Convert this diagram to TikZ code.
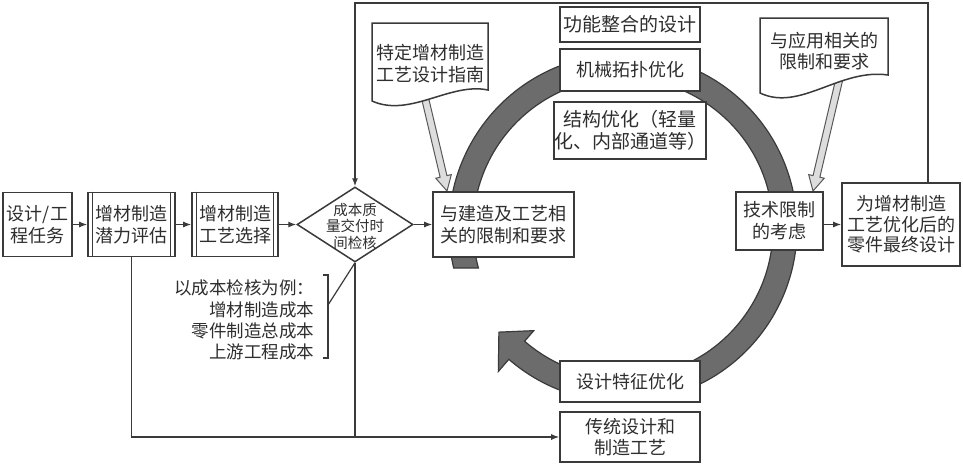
\documentclass[tikz,border=0pt]{standalone}
\usepackage{fontspec}
\setmainfont{Noto Sans CJK SC}
\usetikzlibrary{shapes.geometric,arrows.meta,calc}
\definecolor{ink}{HTML}{3A3A3A}
\definecolor{txt}{HTML}{2E2E2E}
\definecolor{bandc}{HTML}{6C6C6C}
\definecolor{hollowc}{HTML}{DDDDDD}
\newcommand\hollowarr[2]{%
  \filldraw[fill=hollowc,draw=ink!85,line width=1pt,line join=miter]
    ($(#1)!3.5pt!90:(#2)$) -- ($($(#2)!15pt!(#1)$)!3.5pt!-90:(#1)$)
    -- ($($(#2)!15pt!(#1)$)!8pt!-90:(#1)$) -- (#2)
    -- ($($(#2)!15pt!(#1)$)!8pt!90:(#1)$) -- ($($(#2)!15pt!(#1)$)!3.5pt!90:(#1)$)
    -- ($(#1)!3.5pt!-90:(#2)$) -- cycle;}
\begin{document}
\begin{tikzpicture}[x=1pt,y=-1pt,
  box/.style={draw=ink,line width=1.6pt,fill=white,text=txt,align=center,inner sep=0pt,
    font=\fontsize{18}{22}\selectfont},
  conn/.style={draw=ink,line width=1.3pt},
  arr/.style={conn,-{Latex[length=8pt,width=6pt]}},
  notebox/.style={draw=ink,line width=1.5pt,fill=white},
  notetext/.style={text=txt,align=center,font=\fontsize{18}{21.5}\selectfont}
]
\useasboundingbox (0,0) rectangle (963,464);
\fill[white] (0,0) rectangle (963,464);

% big circular band arrow
\coordinate (C) at (623,228);
\filldraw[fill=bandc,draw=ink,line width=1.2pt,line join=miter]
  ($(C)+(166.7:174)$) arc[start angle=166.7,end angle=491,radius=174]
  -- ($(C)+(491:190)$) -- ($(C)+(500:162)$) -- ($(C)+(491:136)$) -- ($(C)+(491:150)$)
  arc[start angle=491,end angle=164.5,radius=150] -- cycle;

% hollow arrows from notes
\coordinate (haA) at (425,98);
\coordinate (haB) at (447,191);
\coordinate (hbA) at (841,72);
\coordinate (hbB) at (813,191);
\hollowarr{haA}{haB}
\hollowarr{hbA}{hbB}

% notes
\draw[notebox] (372,23) -- (488,23) -- (488,90) .. controls (450,82) and (410,118) .. (372,101) -- cycle;
\node[notetext] (guide) at (430,63.5) {特定增材制造\\工艺设计指南};
\draw[notebox] (760,18) -- (888,18) -- (888,75) .. controls (840,68) and (800,112) .. (760,93) -- cycle;
\node[notetext] (appreq) at (824,51) {与应用相关的\\限制和要求};

% main row
\node[box,minimum width=69,minimum height=64] (task) at (37.5,224.5) {设计/工\\程任务};
\node[box,minimum width=87,minimum height=64] (pot) at (131.5,224.5) {增材制造\\潜力评估};
\node[box,minimum width=86,minimum height=64] (sel) at (235,224.5) {增材制造\\工艺选择};
\foreach \n in {pot,sel}{
  \draw[ink,line width=1.2pt] ([xshift=5pt]\n.north west) -- ([xshift=5pt]\n.south west);
  \draw[ink,line width=1.2pt] ([xshift=-5pt]\n.north east) -- ([xshift=-5pt]\n.south east);
}
\node[diamond,draw=ink,line width=1.5pt,fill=white,minimum width=116,minimum height=75,inner sep=0pt] (dia) at (355,224.5) {};
\node[text=txt,align=center,font=\fontsize{14.5}{16.5}\selectfont] (diatext) at (355,226) {成本质\\量交付时\\间检核};
\node[box,minimum width=141,minimum height=65] (build) at (503.5,224.5) {与建造及工艺相\\关的限制和要求};
\node[box,minimum width=87,minimum height=58] (tech) at (779.5,221) {技术限制\\的考虑};
\node[box,minimum width=118,minimum height=83,font=\fontsize{18}{20.5}\selectfont] (final) at (901,224.5) {为增材制造\\工艺优化后的\\零件最终设计};

% column boxes
\node[box,minimum width=140,minimum height=35,font=\fontsize{19}{22}\selectfont] (func) at (630,24.5) {功能整合的设计};
\node[box,minimum width=140,minimum height=42] (mech) at (630,70) {机械拓扑优化};
\node[box,minimum width=140,minimum height=57,font=\fontsize{19}{22}\selectfont] (struct) at (630,130.5) {结构优化（轻量\\化、内部通道等）};
\node[box,minimum width=140,minimum height=41] (feat) at (630,381.5) {设计特征优化};
\node[box,minimum width=140,minimum height=50,font=\fontsize{18}{20.5}\selectfont] (trad) at (630,437) {传统设计和\\制造工艺};

% connectors
\draw[arr] (task) -- (pot);
\draw[arr] (pot) -- (sel);
\draw[arr] (sel) -- (dia);
\draw[arr] (dia) -- (build);
\draw[arr] (tech.east |- final.west) -- (final.west);
\coordinate (loopR) at (928,3);
\coordinate (loopL) at (355,3);
\draw[arr] (final.north -| loopR) -- (loopR) -- (loopL) -- (dia.north);
\draw[arr] (pot.south) |- (trad.west);
\draw[conn] (dia.south) -- (dia.south |- trad.west);

% bracket annotation
\coordinate (brT) at (328,275);
\coordinate (brB) at (328,358);
\coordinate (brM) at (328,305);
\draw[conn,line width=1.2pt] ([xshift=-5pt]brT) -- (brT) -- (brB) -- ([xshift=-5pt]brB);
\draw[conn,line width=1.2pt] (brM) -- (dia.south);
\node[anchor=east,align=right,text=txt,font=\fontsize{17.5}{21.3}\selectfont] (costnote) at (318,320) {以成本检核为例：\\增材制造成本\\零件制造总成本\\上游工程成本};
\end{tikzpicture}
\end{document}
